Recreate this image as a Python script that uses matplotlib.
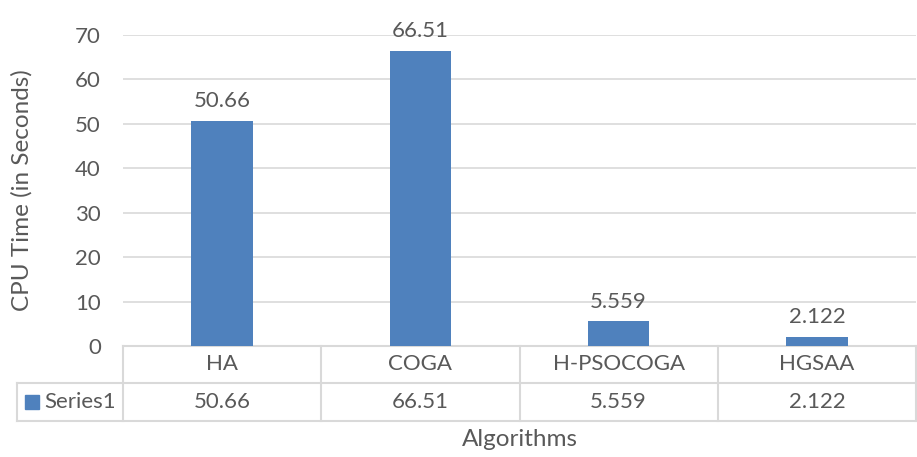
import matplotlib.pyplot as plt
import numpy as np

plt.rcParams['font.family'] = ['Lato', 'DejaVu Sans']

# Data
algorithms = ['HA', 'COGA', 'H-PSOCOGA', 'HGSAA']
cpu_time = [50.66, 66.51, 5.559, 2.122]
value_labels = ['50.66', '66.51', '5.559', '2.122']
series_name = 'Series1'

bar_color = '#4f81bd'
text_color = '#595959'
grid_color = '#d9d9d9'
fs = 16

fig = plt.figure(figsize=(9.17, 4.57), dpi=100)
ax = fig.add_axes([123 / 917, 1 - 346 / 457, 793 / 917, 311 / 457])

x = np.arange(len(algorithms))
bars = ax.bar(x, cpu_time, width=0.31, color=bar_color, zorder=3)

for xi, v, lab in zip(x, cpu_time, value_labels):
    ax.annotate(lab, (xi, v), xytext=(0, 7), textcoords='offset points',
                ha='center', va='bottom', fontsize=fs, color=text_color)

ax.set_xlim(-0.5, len(algorithms) - 0.5)
ax.set_ylim(0, 70)
ax.set_yticks(range(0, 71, 10))
ax.set_xticks([])
ax.tick_params(axis='y', length=0, pad=16, labelsize=fs, labelcolor=text_color)
ax.yaxis.grid(True, color=grid_color, linewidth=1.2, zorder=0)
for s in ax.spines.values():
    s.set_visible(False)

ax.set_ylabel('CPU Time (in Seconds)', fontsize=17.5, color=text_color,
              va='center')
ax.yaxis.set_label_coords(-(123 - 22) / 793, 0.5)

# Data table under the plot area (axes fraction in y, data in x)
trans = ax.get_xaxis_transform()
px = 1 / 311
row1 = -37 * px
row2 = -75 * px
left = -0.5 - (106 / 793) * len(algorithms)
line_kw = dict(color=grid_color, linewidth=1.5, transform=trans, clip_on=False)

ax.plot([-0.5, len(algorithms) - 0.5], [0, 0], **line_kw)
ax.plot([left, len(algorithms) - 0.5], [row1, row1], **line_kw)
ax.plot([left, len(algorithms) - 0.5], [row2, row2], **line_kw)
ax.plot([left, left], [row1, row2], **line_kw)
for b in np.arange(-0.5, len(algorithms), 1.0):
    ax.plot([b, b], [0, row2], **line_kw)

for xi, name, lab in zip(x, algorithms, value_labels):
    ax.text(xi, row1 / 2, name, transform=trans, ha='center', va='center',
            fontsize=fs, color=text_color)
    ax.text(xi, (row1 + row2) / 2, lab, transform=trans, ha='center', va='center',
            fontsize=fs, color=text_color)

ax.add_patch(plt.Rectangle((left + 8 / 198.25, (row1 + row2) / 2 - 7 * px),
                           14 / 198.25, 14 * px, transform=trans,
                           color=bar_color, clip_on=False))
ax.text(left + 27 / 198.25, (row1 + row2) / 2, series_name, transform=trans,
        ha='left', va='center', fontsize=fs, color=text_color)

fig.text(519.5 / 917, 1 - 440 / 457, 'Algorithms', ha='center', va='center',
         fontsize=17.5, color=text_color)

fig.savefig('out.png', dpi=100)
